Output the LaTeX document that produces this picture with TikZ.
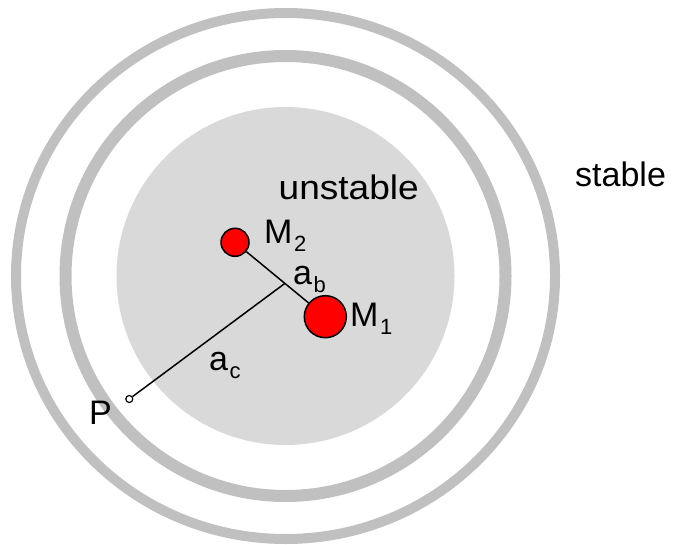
\documentclass[tikz,border=0pt]{standalone}
\usepackage{fontspec}
\setmainfont{Liberation Sans}
\definecolor{diskgray}{HTML}{D9D9D9}
\definecolor{ringgray}{HTML}{C0C0C0}
\newcommand{\bigsz}{\fontsize{34pt}{34pt}\selectfont}
\newcommand{\subsz}{\fontsize{22pt}{22pt}\selectfont}
\newcommand{\sbs}[1]{\kern1.5pt\raisebox{-8pt}{\subsz #1}}
\begin{document}
\begin{tikzpicture}[x=1pt,y=-1pt,
  mass/.style={circle, draw=black, line width=1.5pt, fill=red, inner sep=0pt},
  ptmark/.style={circle, draw=black, line width=1.2pt, fill=white, inner sep=0pt, minimum size=7pt},
  conn/.style={draw=black, line width=1.5pt},
  lbl/.style={anchor=base west, inner sep=0pt, font=\bigsz}]
\useasboundingbox (0,0) rectangle (676,545);
\coordinate (C) at (285.5,276);
\fill[diskgray] (C) circle[radius=169pt];
\draw[ringgray, line width=12pt] (C) circle[radius=220pt];
\draw[ringgray, line width=10pt] (C) ellipse[x radius=269.5pt, y radius=263pt];
\node[mass, minimum size=28pt] (M2) at (235,242.3) {};
\node[mass, minimum size=42pt] (M1) at (325.3,316.7) {};
\node[ptmark] (P) at (129.3,399) {};
\coordinate (J) at (285,283.3);
\draw[conn] (M2) -- (M1);
\draw[conn] (P) -- (J);
\node[lbl] (lunst) at (278.5,199.3) {\scalebox{1.09}[1]{unstable}};
\node[lbl] (lst) at (575,186.7) {stable};
\node[lbl] (lM2) at (264,243.3) {M\sbs{2}};
\node[lbl] (lM1) at (350,326.7) {M\sbs{1}};
\node[lbl] (lab) at (293,284) {a\sbs{b}};
\node[lbl] (lac) at (209,370) {a\sbs{c}};
\node[lbl] (lP) at (89,424) {P};
\end{tikzpicture}
\end{document}
